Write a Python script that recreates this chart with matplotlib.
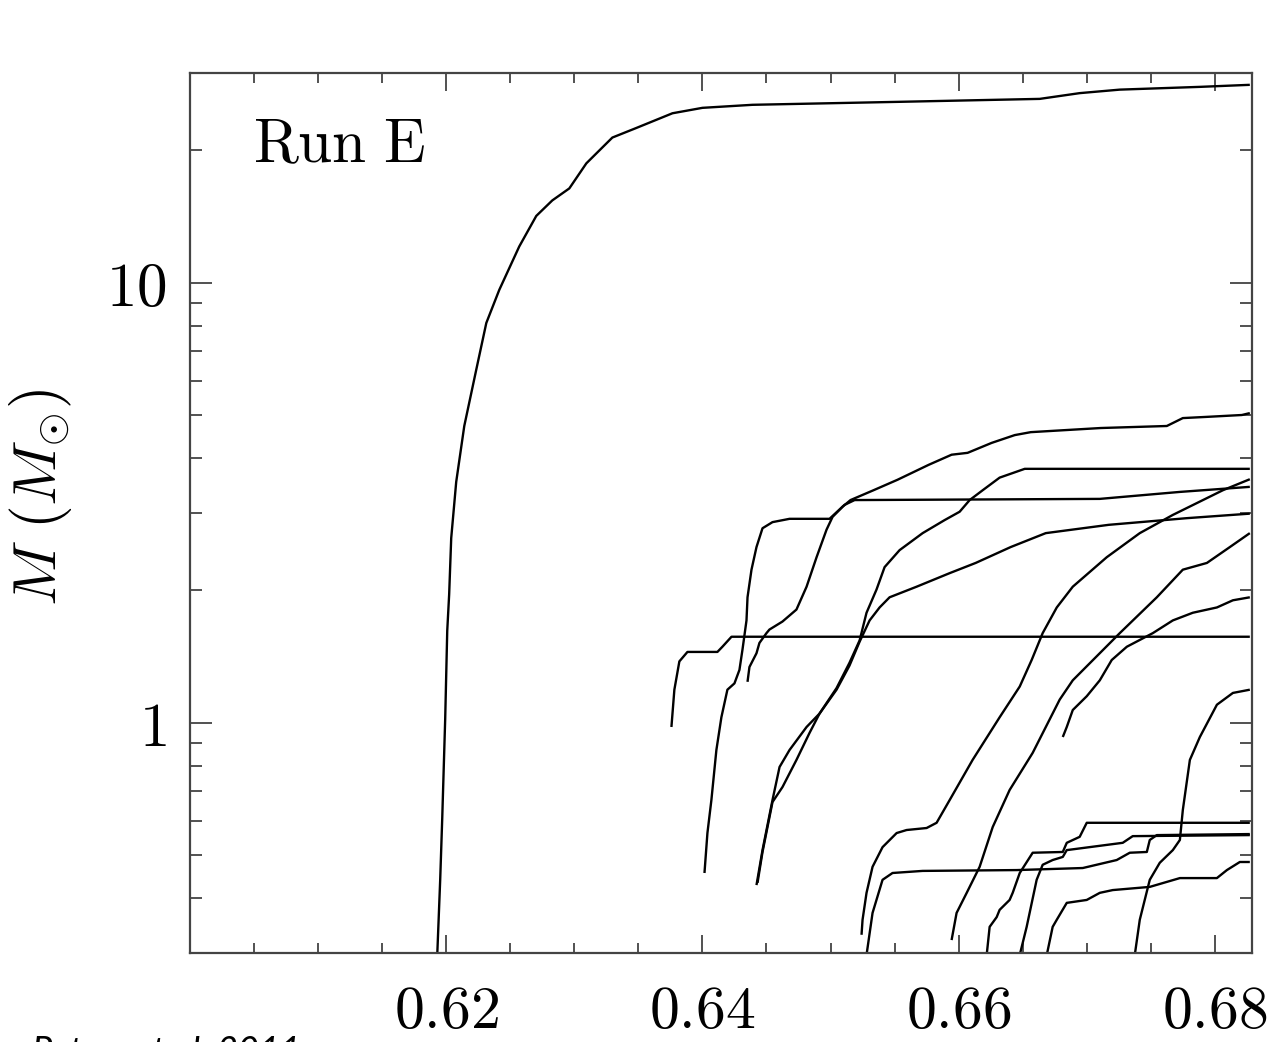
import matplotlib
matplotlib.use("Agg")
import matplotlib.pyplot as plt
from matplotlib.ticker import FixedLocator, FixedFormatter, NullFormatter

plt.rcParams['mathtext.fontset'] = 'cm'

# ---- data: accretion histories (time, mass in Msun) ----
tA = [0.6193, 0.61953, 0.61969, 0.61992, 0.62008, 0.62023, 0.62039, 0.62078, 0.62141, 0.62234,
      0.62313, 0.62414, 0.6257, 0.62703, 0.62828, 0.62961, 0.63094, 0.63297, 0.63484, 0.63766,
      0.64, 0.64391, 0.65539, 0.66633, 0.66945, 0.67258, 0.67883, 0.68273]
mA = [0.297, 0.44, 0.608, 1.02, 1.62, 1.96, 2.63, 3.53, 4.73, 6.34,
      8.11, 9.64, 12.1, 14.2, 15.4, 16.4, 18.7, 21.4, 22.5, 24.3,
      25.0, 25.4, 25.8, 26.2, 27.0, 27.5, 27.9, 28.2]

tB = [0.63758, 0.63781, 0.6382, 0.63883, 0.64117, 0.64156, 0.64227, 0.68273]
mB = [0.979, 1.19, 1.38, 1.45, 1.45, 1.49, 1.57, 1.57]

tC = [0.64016, 0.64039, 0.6407, 0.64109, 0.64148, 0.64195, 0.6425, 0.64289, 0.64313, 0.64344,
      0.64352, 0.64383, 0.64422, 0.64469, 0.64547, 0.6468, 0.64992, 0.65109, 0.65188, 0.67102,
      0.67727, 0.68273]
mC = [0.456, 0.562, 0.668, 0.868, 1.03, 1.19, 1.23, 1.32, 1.47, 1.71,
      1.93, 2.23, 2.51, 2.77, 2.86, 2.91, 2.91, 3.13, 3.21, 3.23,
      3.35, 3.44]

tD = [0.64352, 0.64367, 0.64422, 0.64445, 0.645, 0.64523, 0.64625, 0.64734, 0.64813, 0.64891,
      0.64969, 0.65016, 0.65094, 0.65156, 0.65336, 0.65523, 0.65766, 0.65945, 0.6607, 0.66258,
      0.66438, 0.66563, 0.67109, 0.67625, 0.6775, 0.6793, 0.68211, 0.68273]
mD = [1.24, 1.34, 1.44, 1.52, 1.60, 1.63, 1.70, 1.81, 2.04, 2.38,
      2.75, 2.94, 3.10, 3.21, 3.38, 3.57, 3.86, 4.07, 4.11, 4.33,
      4.51, 4.58, 4.68, 4.73, 4.93, 4.96, 5.01, 5.06]

tE = [0.6443, 0.64469, 0.64547, 0.64625, 0.64734, 0.64836, 0.64914, 0.65047, 0.65148, 0.65227,
      0.65305, 0.65383, 0.65461, 0.65672, 0.6593, 0.66133, 0.66406, 0.6668, 0.67172, 0.67781,
      0.68273]
mE = [0.433, 0.509, 0.661, 0.715, 0.824, 0.949, 1.05, 1.19, 1.35, 1.53,
      1.71, 1.83, 1.93, 2.04, 2.19, 2.31, 2.51, 2.70, 2.82, 2.92,
      2.99]

tF = [0.64422, 0.64469, 0.64547, 0.64602, 0.6468, 0.64813, 0.64914, 0.65047, 0.65148, 0.65227,
      0.65281, 0.65359, 0.65422, 0.65539, 0.65719, 0.6589, 0.66008, 0.66086, 0.66188, 0.6632,
      0.66516, 0.68273]
mF = [0.428, 0.514, 0.668, 0.794, 0.868, 0.979, 1.05, 1.20, 1.37, 1.54,
      1.78, 2.01, 2.26, 2.47, 2.70, 2.89, 3.02, 3.21, 3.38, 3.61,
      3.78, 3.78]

tG = [0.65242, 0.6525, 0.65281, 0.65328, 0.65406, 0.65516, 0.65594, 0.6575, 0.65828, 0.6593,
      0.66109, 0.6632, 0.66477, 0.6657, 0.66656, 0.66766, 0.66891, 0.67156, 0.67414, 0.67672,
      0.68063, 0.68273]
mG = [0.330, 0.357, 0.411, 0.471, 0.522, 0.562, 0.571, 0.577, 0.593, 0.668,
      0.824, 1.03, 1.21, 1.39, 1.60, 1.83, 2.04, 2.38, 2.70, 2.97,
      3.38, 3.58]

tH = [0.65281, 0.65328, 0.65406, 0.65484, 0.65719, 0.66453, 0.66969, 0.67234, 0.67336, 0.67469,
      0.67492, 0.67547, 0.68273]
mH = [0.297, 0.370, 0.440, 0.456, 0.461, 0.463, 0.468, 0.488, 0.507, 0.509,
      0.542, 0.556, 0.559]

tI = [0.65945, 0.65984, 0.66063, 0.66164, 0.66266, 0.66398, 0.66578, 0.66789, 0.66891, 0.67258,
      0.67547, 0.6775, 0.67938, 0.68117, 0.68273]
mI = [0.321, 0.370, 0.411, 0.471, 0.580, 0.704, 0.855, 1.13, 1.25, 1.60,
      1.93, 2.23, 2.31, 2.51, 2.70]

tJ = [0.66813, 0.66844, 0.66891, 0.67, 0.67102, 0.67195, 0.67313, 0.67516, 0.67672, 0.67828,
      0.68016, 0.68141, 0.68273]
mJ = [0.929, 0.979, 1.07, 1.15, 1.25, 1.39, 1.49, 1.60, 1.71, 1.78,
      1.83, 1.90, 1.93]

tK = [0.66219, 0.66242, 0.66297, 0.6632, 0.66398, 0.66422, 0.66477, 0.66578, 0.66813, 0.66844,
      0.66945, 0.67, 0.68273]
mK = [0.297, 0.344, 0.362, 0.376, 0.396, 0.411, 0.456, 0.507, 0.509, 0.534,
      0.551, 0.593, 0.593]

tL = [0.66477, 0.66531, 0.66609, 0.66656, 0.66734, 0.66813, 0.66844, 0.67281, 0.67359, 0.68273]
mL = [0.297, 0.344, 0.440, 0.476, 0.488, 0.496, 0.514, 0.534, 0.553, 0.556]

tM = [0.66688, 0.66734, 0.66766, 0.66844, 0.67, 0.67102, 0.67203, 0.67492, 0.67727, 0.68016,
      0.68094, 0.68195, 0.68273]
mM = [0.297, 0.344, 0.357, 0.390, 0.396, 0.411, 0.417, 0.424, 0.444, 0.444,
      0.463, 0.483, 0.483]

tN = [0.67375, 0.67414, 0.67492, 0.6757, 0.67672, 0.67727, 0.6775, 0.67805, 0.67883, 0.68016,
      0.68141, 0.68273]
mN = [0.297, 0.357, 0.440, 0.481, 0.514, 0.542, 0.634, 0.824, 0.929, 1.10,
      1.17, 1.19]

tracks = [(tA, mA), (tB, mB), (tC, mC), (tD, mD), (tE, mE), (tF, mF), (tG, mG),
          (tH, mH), (tI, mI), (tJ, mJ), (tK, mK), (tL, mL), (tM, mM), (tN, mN)]

x_major = [0.62, 0.64, 0.66, 0.68]
x_labels = ["0.62", "0.64", "0.66", "0.68"]
x_minor = [0.605, 0.61, 0.615, 0.625, 0.63, 0.635, 0.645, 0.65, 0.655, 0.665, 0.67, 0.675]
y_major = [1, 10]
y_labels = ["1", "10"]
y_minor = [0.3, 0.4, 0.5, 0.6, 0.7, 0.8, 0.9, 2, 3, 4, 5, 6, 7, 8, 9, 20, 30]

# ---- figure ----
fig = plt.figure(figsize=(12.7, 10.42), dpi=100)
ax = fig.add_axes([190/1270, 89/1042, (1252-190)/1270, (953-73)/1042])

for t, m in tracks:
    ax.plot(t, m, color='black', lw=1.7, solid_joinstyle='round', solid_capstyle='butt')

ax.set_yscale('log')
ax.set_xlim(0.6000, 0.6829)
ax.set_ylim(0.3, 30.0)

ax.xaxis.set_major_locator(FixedLocator(x_major))
ax.xaxis.set_major_formatter(FixedFormatter([r"$\mathrm{%s}$" % s for s in x_labels]))
ax.xaxis.set_minor_locator(FixedLocator(x_minor))
ax.xaxis.set_minor_formatter(NullFormatter())
ax.yaxis.set_major_locator(FixedLocator(y_major))
ax.yaxis.set_major_formatter(FixedFormatter([r"$\mathrm{%s}$" % s for s in y_labels]))
ax.yaxis.set_minor_locator(FixedLocator(y_minor))
ax.yaxis.set_minor_formatter(NullFormatter())

ax.tick_params(axis='both', which='both', direction='in', top=True, right=True,
               color='#333333', width=1.2)
ax.tick_params(axis='x', which='major', length=13, pad=21, labelsize=43)
ax.tick_params(axis='x', which='minor', length=7.5)
ax.tick_params(axis='y', which='major', length=16, pad=17, labelsize=44)
ax.tick_params(axis='y', which='minor', length=8.5)

for sp in ax.spines.values():
    sp.set_linewidth(1.6)
    sp.set_color('#444444')

ax.text((253-190)/1062, (953-162)/880, r"$\mathrm{Run\ E}$", fontsize=44,
        transform=ax.transAxes, ha='left', va='baseline')

fig.text(40/1270, (1042-497)/1042, r"$M\ (M_{\odot})$", rotation=90, fontsize=44,
         ha='center', va='center')

fig.text(32/1270, (1042-1036)/1042, "Peters et al. 2011", fontsize=26, style='italic',
         family='Lato', ha='left', va='top')

fig.savefig("out.png", dpi=100)
